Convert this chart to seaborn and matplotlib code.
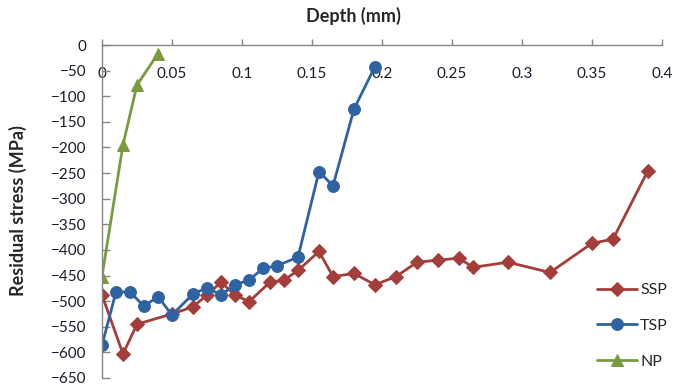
import seaborn as sns
import matplotlib.pyplot as plt
import pandas as pd

ssp_depth = [0, 0.015, 0.025, 0.05, 0.065, 0.075, 0.085, 0.095, 0.105, 0.12, 0.13, 0.14, 0.155,
             0.165, 0.18, 0.195, 0.21, 0.225, 0.24, 0.255, 0.265, 0.29, 0.32, 0.35, 0.365, 0.39]
ssp_stress = [-488, -603, -545, -525, -511, -488, -463, -488, -501, -463, -459, -440, -403,
              -452, -446, -468, -452, -424, -420, -416, -434, -424, -444, -387, -379, -245]

tsp_depth = [0, 0.01, 0.02, 0.03, 0.04, 0.05, 0.065, 0.075, 0.085, 0.095, 0.105, 0.115, 0.125,
             0.14, 0.155, 0.165, 0.18, 0.195]
tsp_stress = [-586, -482, -482, -510, -491, -527, -486, -474, -488, -468, -459, -436, -431,
              -414, -247, -275, -125, -42]

np_depth = [0, 0.015, 0.025, 0.04]
np_stress = [-452, -195, -78, -17]

sns.set_style('white')
plt.rcParams['font.family'] = ['Lato', 'DejaVu Sans']

fig = plt.figure(figsize=(6.74, 3.88), dpi=100)
ax = fig.add_axes([0.1513, 0.0258, 0.8309, 0.8582])

series = [
    ('SSP', ssp_depth, ssp_stress, 'D', 7, '#A33E3B'),
    ('TSP', tsp_depth, tsp_stress, 'o', 8.5, '#2E62A0'),
    ('NP', np_depth, np_stress, '^', 9, '#7A9A3E'),
]
for name, xs, ys, mk, ms, col in series:
    df = pd.DataFrame({'depth': xs, 'stress': ys})
    sns.lineplot(x='depth', y='stress', data=df, sort=False, estimator=None, ax=ax,
                 color=col, marker=mk, markersize=ms, markeredgecolor=col,
                 linewidth=2.0, label=name)

ax.set_xlim(0, 0.4)
ax.set_ylim(-650, 0)
ax.set_xticks([0, 0.05, 0.1, 0.15, 0.2, 0.25, 0.3, 0.35, 0.4])
ax.set_xticklabels(['0', '0.05', '0.1', '0.15', '0.2', '0.25', '0.3', '0.35', '0.4'])
ax.set_yticks(range(-650, 1, 50))
ax.set_xlabel('')
ax.set_ylabel('')

for s in ['top', 'right']:
    ax.spines[s].set_visible(False)
ax.spines['bottom'].set_position(('data', 0))
for s in ['left', 'bottom']:
    ax.spines[s].set_color('#868686')
    ax.spines[s].set_linewidth(1.0)

ax.tick_params(axis='x', direction='in', length=4, width=1, color='#868686',
               pad=16, labelsize=11, labelcolor='#1a1a2e', bottom=True)
ax.tick_params(axis='y', direction='in', length=5.5, width=1, color='#868686',
               pad=11, labelsize=11, labelcolor='#1a1a2e', left=True)

fig.text(353 / 674, 1 - 16 / 388, 'Depth (mm)', ha='center', va='center',
         fontsize=13, fontweight='bold')
fig.text(18 / 674, 1 - 211 / 388, 'Residual stress (MPa)', ha='center', va='center',
         rotation=90, fontsize=13, fontweight='bold')

ax.legend(loc='upper left', bbox_to_anchor=(597 / 674, 1 - 283 / 388),
          bbox_transform=fig.transFigure, frameon=False, fontsize=11.5,
          handlelength=2.5, handletextpad=0.2, labelspacing=1.35,
          borderpad=0, borderaxespad=0)

fig.savefig('out.png', dpi=100)
